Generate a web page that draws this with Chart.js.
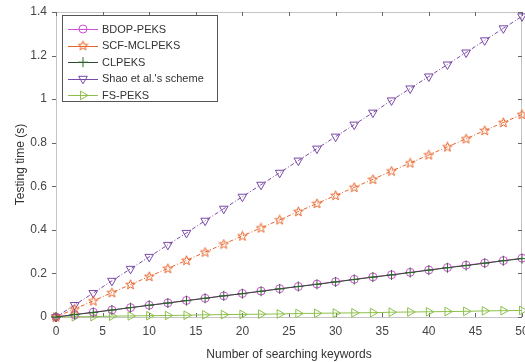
<!DOCTYPE html>
<html>
<head>
<meta charset="utf-8">
<script src="https://cdn.jsdelivr.net/npm/chart.js@4/dist/chart.umd.min.js"></script>
<style>
  html, body { margin: 0; padding: 0; background: #fff; }
  #wrap { width: 525px; height: 362px; }
</style>
</head>
<body>
<div id="wrap"><canvas id="c" width="525" height="362"></canvas></div>
<script>
const keywords = [0, 2, 4, 6, 8, 10, 12, 14, 16, 18, 20, 22, 24, 26, 28, 30, 32, 34, 36, 38, 40, 42, 44, 46, 48, 50];
const bdop = [0, 0.011, 0.022, 0.032, 0.043, 0.054, 0.065, 0.076, 0.086, 0.097, 0.108, 0.119, 0.13, 0.14, 0.151, 0.162, 0.173, 0.184, 0.194, 0.205, 0.216, 0.227, 0.238, 0.248, 0.259, 0.27];
const scf = [0, 0.037, 0.074, 0.112, 0.149, 0.186, 0.223, 0.26, 0.298, 0.335, 0.372, 0.409, 0.446, 0.484, 0.521, 0.558, 0.595, 0.632, 0.67, 0.707, 0.744, 0.781, 0.818, 0.856, 0.893, 0.93];
const clpeks = [0, 0.011, 0.021, 0.032, 0.043, 0.054, 0.064, 0.075, 0.086, 0.097, 0.107, 0.118, 0.129, 0.14, 0.15, 0.161, 0.172, 0.183, 0.193, 0.204, 0.215, 0.226, 0.236, 0.247, 0.258, 0.268];
const shao = [0, 0.055, 0.11, 0.166, 0.221, 0.276, 0.331, 0.386, 0.442, 0.497, 0.552, 0.607, 0.662, 0.718, 0.773, 0.828, 0.883, 0.938, 0.994, 1.049, 1.104, 1.159, 1.214, 1.27, 1.325, 1.38];
const fspeks = [0, 0.001, 0.002, 0.004, 0.005, 0.006, 0.007, 0.008, 0.01, 0.011, 0.012, 0.013, 0.014, 0.016, 0.017, 0.018, 0.019, 0.02, 0.022, 0.023, 0.024, 0.025, 0.026, 0.028, 0.029, 0.03];
const seriesNames = ['BDOP-PEKS', 'SCF-MCLPEKS', 'CLPEKS', "Shao et al.'s scheme", 'FS-PEKS'];
const xTicks = [0, 5, 10, 15, 20, 25, 30, 35, 40, 45, 50];
const yTicks = [0, 0.2, 0.4, 0.6, 0.8, 1, 1.2, 1.4];

const FONT = '"Liberation Sans", Arial, sans-serif';

// five-point star marker (not built into Chart.js)
function makeStar(color) {
  const c = document.createElement('canvas');
  c.width = 11; c.height = 11;
  const g = c.getContext('2d');
  g.strokeStyle = color;
  g.lineWidth = 1;
  g.beginPath();
  for (let i = 0; i < 10; i++) {
    const r = i % 2 === 0 ? 5 : 2.1;
    const a = -Math.PI / 2 + i * Math.PI / 5;
    const px = 5.5 + r * Math.cos(a), py = 5.8 + r * Math.sin(a);
    if (i === 0) g.moveTo(px, py); else g.lineTo(px, py);
  }
  g.closePath();
  g.stroke();
  return c;
}
const starImg = makeStar('#e8642a');

function pts(ys) {
  return keywords.map((x, i) => ({ x, y: ys[i] }));
}

const datasets = [
  { label: seriesNames[0], data: pts(bdop), borderColor: '#d24fd8', pointBorderColor: '#d24fd8',
    pointStyle: 'circle', pointRadius: 4, borderWidth: 1, order: 3 },
  { label: seriesNames[1], data: pts(scf), borderColor: '#e8642a', pointBorderColor: '#e8642a',
    pointStyle: starImg, pointRadius: 5, borderWidth: 1, borderDash: [4, 2, 1, 2], order: 2 },
  { label: seriesNames[2], data: pts(clpeks), borderColor: '#2c4a2c', pointBorderColor: '#2d6b2d',
    pointStyle: 'cross', pointRadius: 5, borderWidth: 1, order: 1 },
  { label: seriesNames[3], data: pts(shao), borderColor: '#7a48a8', pointBorderColor: '#7a48a8',
    pointStyle: 'triangle', rotation: 180, pointRadius: 5, borderWidth: 1, borderDash: [4, 2, 1, 2], order: 4 },
  { label: seriesNames[4], data: pts(fspeks), borderColor: '#8cc04a', pointBorderColor: '#8cc04a',
    pointStyle: 'triangle', rotation: 90, pointRadius: 5, borderWidth: 1, order: 5 }
];
datasets.forEach(d => {
  d.backgroundColor = 'transparent';
  d.pointBackgroundColor = 'transparent';
  d.pointBorderWidth = 1;
  d.fill = false;
  d.tension = 0;
  d.clip = false;
});

// box + inward ticks, MATLAB style
const boxPlugin = {
  id: 'box',
  beforeDatasetsDraw(chart) {
    const { ctx, chartArea: a, scales } = chart;
    ctx.save();
    ctx.strokeStyle = '#c4c4c4';
    ctx.lineWidth = 1;
    ctx.strokeRect(a.left + 0.5, a.top + 0.5, a.right - a.left - 1, a.bottom - a.top);
    ctx.strokeStyle = '#666';
    ctx.beginPath();
    xTicks.forEach(v => {
      const px = Math.round(scales.x.getPixelForValue(v)) + 0.5;
      ctx.moveTo(px, a.bottom); ctx.lineTo(px, a.bottom - 4);
      ctx.moveTo(px, a.top); ctx.lineTo(px, a.top + 4);
    });
    yTicks.forEach(v => {
      const py = Math.round(scales.y.getPixelForValue(v)) + 0.5;
      ctx.moveTo(a.left - 4, py); ctx.lineTo(a.left, py);
      ctx.moveTo(a.right, py); ctx.lineTo(a.right - 4, py);
    });
    ctx.stroke();
    ctx.restore();
  }
};

// legend box in the upper left of the plot
function drawMarker(ctx, ds, x, y) {
  if (ds.pointStyle instanceof HTMLCanvasElement) {
    ctx.drawImage(ds.pointStyle, x - 5.5, y - 5.5);
    return;
  }
  ctx.save();
  ctx.strokeStyle = ds.pointBorderColor;
  ctx.fillStyle = 'rgba(0,0,0,0)';
  ctx.lineWidth = 1;
  Chart.helpers.drawPoint(ctx, {
    pointStyle: ds.pointStyle, radius: ds.pointRadius, rotation: ds.rotation || 0, borderWidth: 1
  }, x, y);
  ctx.restore();
}

const legendPlugin = {
  id: 'boxLegend',
  afterDatasetsDraw(chart) {
    const { ctx } = chart;
    const x0 = 62, y0 = 15, w = 155, h = 86;
    ctx.save();
    ctx.fillStyle = '#fff';
    ctx.fillRect(x0, y0, w, h);
    ctx.strokeStyle = '#555';
    ctx.lineWidth = 1;
    ctx.strokeRect(x0 + 0.5, y0 + 0.5, w, h);
    ctx.font = '11px ' + FONT;
    ctx.textBaseline = 'middle';
    chart.data.datasets.forEach((ds, i) => {
      const y = y0 + 14 + i * 16.6;
      ctx.strokeStyle = ds.borderColor;
      ctx.setLineDash([]);
      ctx.beginPath();
      ctx.moveTo(x0 + 6, Math.round(y) + 0.5);
      ctx.lineTo(x0 + 36, Math.round(y) + 0.5);
      ctx.stroke();
      drawMarker(ctx, ds, x0 + 21, y);
      ctx.fillStyle = '#333';
      ctx.fillText(ds.label, x0 + 40, y + 0.5);
    });
    ctx.restore();
  }
};

new Chart(document.getElementById('c'), {
  type: 'line',
  data: { datasets },
  options: {
    responsive: false,
    animation: false,
    layout: { autoPadding: false, padding: { top: 12, right: 3, left: 0, bottom: 0 } },
    plugins: { legend: { display: false }, tooltip: { enabled: false } },
    scales: {
      x: {
        type: 'linear', min: 0, max: 50,
        afterBuildTicks: s => { s.ticks = xTicks.map(v => ({ value: v })); },
        grid: { display: false, drawTicks: false },
        border: { display: false },
        ticks: { padding: 7, color: '#444', font: { family: FONT, size: 12 }, maxRotation: 0 },
        title: { display: true, text: 'Number of searching keywords', color: '#333',
          font: { family: FONT, size: 12 }, padding: { top: 1, bottom: 0 } },
        afterFit: s => { s.height = 45; s.paddingLeft = 0; s.paddingRight = 0; }
      },
      y: {
        type: 'linear', min: 0, max: 1.4,
        afterBuildTicks: s => { s.ticks = yTicks.map(v => ({ value: v })); },
        grid: { display: false, drawTicks: false },
        border: { display: false },
        ticks: { padding: 9, color: '#444', font: { family: FONT, size: 12 },
          callback: v => String(Number(v.toFixed(1))) },
        title: { display: true, text: 'Testing time (s)', color: '#333',
          font: { family: FONT, size: 12 }, padding: { top: 13, bottom: 0 } },
        afterFit: s => { s.width = 56; s.paddingTop = 0; s.paddingBottom = 0; }
      }
    }
  },
  plugins: [boxPlugin, legendPlugin]
});
</script>
</body>
</html>
